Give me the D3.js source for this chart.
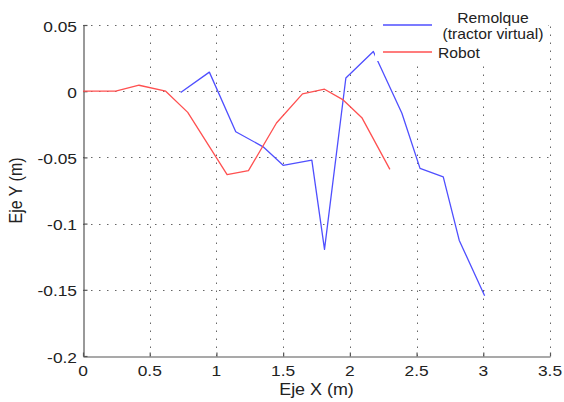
<!DOCTYPE html>
<html>
<head>
<meta charset="utf-8">
<script src="https://cdn.jsdelivr.net/npm/d3@7"></script>
<style>
  html, body { margin: 0; padding: 0; background: #fff; }
  svg { display: block; font-family: "Liberation Sans", Arial, sans-serif; }
</style>
</head>
<body>
<svg id="chart" width="564" height="402"></svg>
<script>
// Trayectorias medidas (m)
const remolqueX = [0.732, 0.947, 1.145, 1.35, 1.50, 1.715, 1.81, 1.97, 2.176, 2.39, 2.526, 2.70, 2.82, 3.01];
const remolqueY = [-0.001, 0.0144, -0.0306, -0.042, -0.056, -0.052, -0.1195, 0.0100, 0.030, -0.0167, -0.0583, -0.0647, -0.1127, -0.1545];
const robotX = [0, 0.245, 0.42, 0.62, 0.785, 1.08, 1.24, 1.45, 1.645, 1.81, 1.95, 2.09, 2.30];
const robotY = [0, 0, 0.0045, 0, -0.016, -0.063, -0.060, -0.024, -0.002, 0.0015, -0.0066, -0.020, -0.059];

const xTicks = [0, 0.5, 1, 1.5, 2, 2.5, 3, 3.5];
const yTicks = [-0.2, -0.15, -0.1, -0.05, 0, 0.05];
const xTickLabels = ["0", "0.5", "1", "1.5", "2", "2.5", "3", "3.5"];
const yTickLabels = ["-0.2", "-0.15", "-0.1", "-0.05", "0", "0.05"];

const legendLabels = [["Remolque", "(tractor virtual)"], ["Robot"]];
const seriesColors = ["#4f4fff", "#ff5050"];

const svg = d3.select("#chart");
const plotL = 83, plotR = 550, plotT = 25, plotB = 356;
const stretch = 1.12;

const x = d3.scaleLinear().domain([0, 3.5]).range([plotL, plotR]);
const y = d3.scaleLinear().domain([-0.2, 0.05]).range([plotB, plotT]);

// dotted grid
const grid = svg.append("g").attr("stroke", "#666").attr("stroke-width", 1)
  .attr("stroke-dasharray", "1.5,6.5");
grid.selectAll("line.v").data(xTicks.slice(1)).join("line").attr("class", "v")
  .attr("x1", d => Math.round(x(d)) + 0.5).attr("x2", d => Math.round(x(d)) + 0.5)
  .attr("y1", plotB).attr("y2", plotT);
grid.selectAll("line.h").data(yTicks.slice(1)).join("line").attr("class", "h")
  .attr("y1", d => Math.round(y(d)) + 0.5).attr("y2", d => Math.round(y(d)) + 0.5)
  .attr("x1", plotL).attr("x2", plotR);

// axes (ticks pointing inward)
const xAxis = d3.axisBottom(x).tickValues(xTicks).tickSizeInner(-4).tickSizeOuter(0).tickFormat("");
const yAxis = d3.axisLeft(y).tickValues(yTicks).tickSizeInner(-4).tickSizeOuter(0).tickFormat("");
const gx = svg.append("g").attr("transform", `translate(0,${plotB + 0.5})`).call(xAxis);
const gy = svg.append("g").attr("transform", `translate(${plotL + 0.5},0)`).call(yAxis);
[gx, gy].forEach(g => {
  g.selectAll("path, line").attr("stroke", "#555").attr("stroke-width", 1.2);
});

// tick labels
svg.append("g").selectAll("text").data(xTicks).join("text")
  .attr("transform", d => `translate(${x(d)},376) scale(${stretch},1)`)
  .attr("text-anchor", "middle").attr("font-size", 15.5).attr("fill", "#222")
  .text((d, i) => xTickLabels[i]);
svg.append("g").selectAll("text").data(yTicks).join("text")
  .attr("transform", d => `translate(77,${y(d) + 6.5}) scale(${stretch},1)`)
  .attr("text-anchor", "end").attr("font-size", 15.5).attr("fill", "#222")
  .text((d, i) => yTickLabels[i]);

// axis titles
svg.append("text")
  .attr("transform", `translate(${(plotL + plotR) / 2},395) scale(${stretch},1)`)
  .attr("text-anchor", "middle").attr("font-size", 16).attr("fill", "#222")
  .text("Eje X (m)");
svg.append("text")
  .attr("transform", `translate(22,${(plotT + plotB) / 2}) scale(${stretch},1) rotate(-90)`)
  .attr("text-anchor", "middle").attr("font-size", 16).attr("fill", "#222")
  .text("Eje Y (m)");

// series
const line = d3.line().x(d => x(d[0])).y(d => y(d[1]));
const series = [
  d3.zip(remolqueX, remolqueY),
  d3.zip(robotX, robotY)
];
svg.append("g").selectAll("path").data(series).join("path")
  .attr("d", line)
  .attr("fill", "none")
  .attr("stroke", (d, i) => seriesColors[i])
  .attr("stroke-width", 1.3)
  .attr("stroke-linejoin", "round");

// legend
const lg = svg.append("g");
lg.append("rect").attr("x", 375).attr("y", 2).attr("width", 173).attr("height", 59).attr("fill", "#fff");
const sampleY = [25, 52];
lg.selectAll("line").data(seriesColors).join("line")
  .attr("x1", 383).attr("x2", 432)
  .attr("y1", (d, i) => sampleY[i]).attr("y2", (d, i) => sampleY[i])
  .attr("stroke", d => d).attr("stroke-width", 1.3);
lg.append("text")
  .attr("transform", `translate(493,23) scale(${stretch},1)`)
  .attr("text-anchor", "middle").attr("font-size", 14).attr("fill", "#222")
  .text(legendLabels[0][0]);
lg.append("text")
  .attr("transform", `translate(493,39) scale(${stretch},1)`)
  .attr("text-anchor", "middle").attr("font-size", 14).attr("fill", "#222")
  .text(legendLabels[0][1]);
lg.append("text")
  .attr("transform", `translate(438,57.5) scale(${stretch},1)`)
  .attr("text-anchor", "start").attr("font-size", 14).attr("fill", "#222")
  .text(legendLabels[1][0]);
</script>
</body>
</html>
